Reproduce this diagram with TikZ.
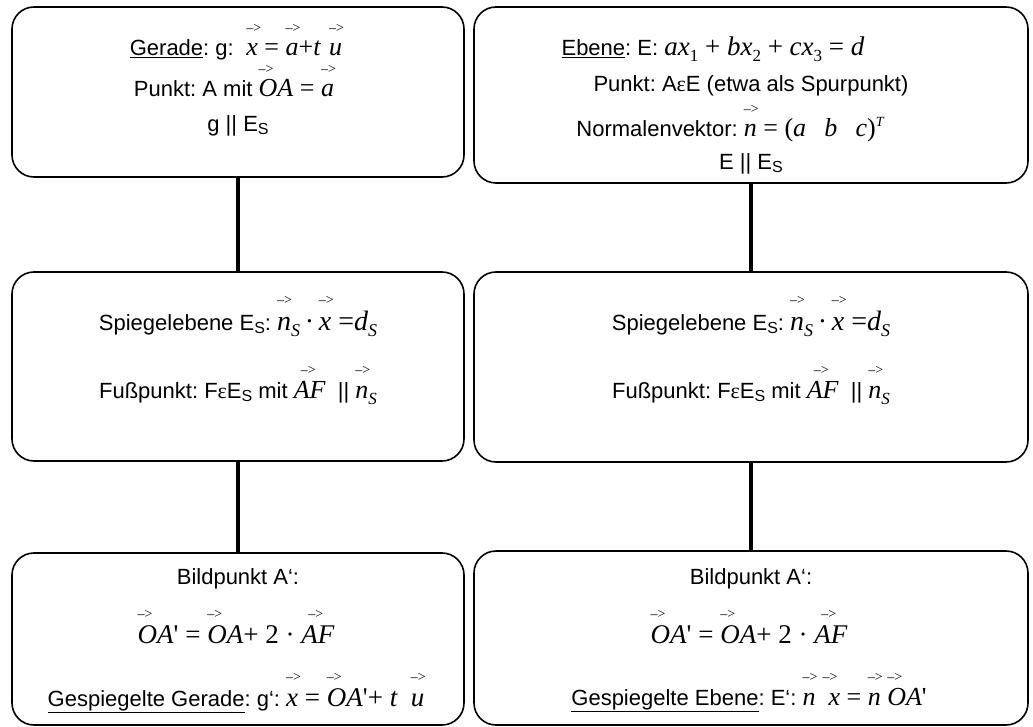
\documentclass[tikz,border=0pt]{standalone}
\usepackage{fontspec}
\setmainfont{Liberation Sans}
\newfontfamily\tmf{Liberation Serif}
\frenchspacing
\newdimen\arrraise
% vector with "->" above
\newcommand\vk[2][0pt]{\leavevmode\arrraise=0.9em\rlap{\hspace*{#1}\raise\arrraise\hbox{\fontsize{14}{14}\selectfont\upshape –>}}{\itshape #2}}
\newcommand\lo[3]{\raisebox{-#1}{\fontsize{#2}{#2}\selectfont #3}}
\newcommand\hi[3]{\raisebox{#1}{\fontsize{#2}{#2}\selectfont #3}}
\newcommand\I[1]{{\itshape #1}}
\newcommand\M[2]{{\tmf\fontsize{#1}{#1}\selectfont #2}}
\newcommand\ES{E\lo{3pt}{16}{S}}
\newcommand\sq{\textquotesingle}
\tikzset{
  box/.style={draw, line width=1.6pt, rounded corners=22pt, inner sep=0pt},
  conn/.style={line width=4.5pt},
  txt/.style={anchor=base, inner sep=0pt, font=\fontsize{22}{26}\selectfont}
}
\begin{document}
\begin{tikzpicture}[x=1pt,y=-1pt]
\useasboundingbox (0,0) rectangle (1033,727);
% boxes
\node[box, minimum width=452pt, minimum height=170pt] (b1) at (238,92) {};
\node[box, minimum width=554pt, minimum height=176pt] (b2) at (751,95) {};
\node[box, minimum width=452pt, minimum height=189pt] (b3) at (238,366.5) {};
\node[box, minimum width=554pt, minimum height=190pt] (b4) at (751,367) {};
\node[box, minimum width=452pt, minimum height=172pt] (b5) at (238,639) {};
\node[box, minimum width=554pt, minimum height=174pt] (b6) at (751,638) {};
% connectors
\draw[conn] (b1.south) -- (b3.north);
\draw[conn] (b3.south) -- (b5.north);
\draw[conn] (b2.south) -- (b4.north);
\draw[conn] (b4.south) -- (b6.north);
% box 1
\node[txt] (t11) at (236,56) {\underline{Gerade}: g: \M{26}{\ \vk{x} = \vk{a}+\I{t}\,\,\vk{u}}};
\node[txt] (t12) at (234,97) {Punkt: A mit \M{26}{\vk{OA} = \vk{a}}};
\node[txt] (t13) at (238,132) {g || \ES};
% box 2
\node[txt] (t21) at (713,56) {\underline{Ebene}: E: \M{27}{\I{ax}\lo{6pt}{17}{1} + \I{bx}\lo{6pt}{17}{2} + \I{cx}\lo{6pt}{17}{3} = \I{d}}};
\node[txt] (t22) at (751,92) {Punkt: A{\tmf ε}E (etwa als Spurpunkt)};
\node[txt] (t23) at (730,137) {Normalenvektor: \M{26}{\vk{n} = (\I{a}\hspace{0.7em}\I{b}\hspace{0.7em}\I{c})\hi{10pt}{14}{\itshape T}}};
\node[txt] (t24) at (751,170) {E || \ES};
% box 3
\node[txt] (t31) at (238,330) {Spiegelebene \ES: \M{28}{\vk{n}\lo{6pt}{18}{\itshape S}\,·\,\vk{x} =\I{d}\lo{6pt}{18}{\itshape S}}};
\node[txt] (t32) at (238,398) {Fußpunkt: F{\tmf ε}\ES\ mit \M{26}{\vk[7pt]{AF}}\ \ || \M{26}{\vk{n}\lo{6pt}{17}{\itshape S}}};
% box 4
\node[txt] (t41) at (751,330) {Spiegelebene \ES: \M{28}{\vk{n}\lo{6pt}{18}{\itshape S}\,·\,\vk{x} =\I{d}\lo{6pt}{18}{\itshape S}}};
\node[txt] (t42) at (751,398) {Fußpunkt: F{\tmf ε}\ES\ mit \M{26}{\vk[7pt]{AF}}\ \ || \M{26}{\vk{n}\lo{6pt}{17}{\itshape S}}};
% box 5
\node[txt] (t51) at (238,584) {Bildpunkt A‘:};
\node[txt] (t52) at (236,643) {\M{27}{\vk{OA}\sq{} = \vk{OA}+ 2 · \vk[7pt]{AF}}};
\node[txt] (t53) at (236,706) {\underline{Gespiegelte Gerade}: g‘: \M{27}{\vk{x} = \vk{OA}\sq+ \I{t}\ \ \vk{u}}};
% box 6
\node[txt] (t61) at (751,584) {Bildpunkt A‘:};
\node[txt] (t62) at (749,643) {\M{27}{\vk{OA}\sq{} = \vk{OA}+ 2 · \vk[7pt]{AF}}};
\node[txt] (t63) at (749,705) {\underline{Gespiegelte Ebene}: E‘: \M{26}{\vk{n}\ \ \vk[-6pt]{x} = \vk{n}\ \vk{OA}\sq}};
\end{tikzpicture}
\end{document}
